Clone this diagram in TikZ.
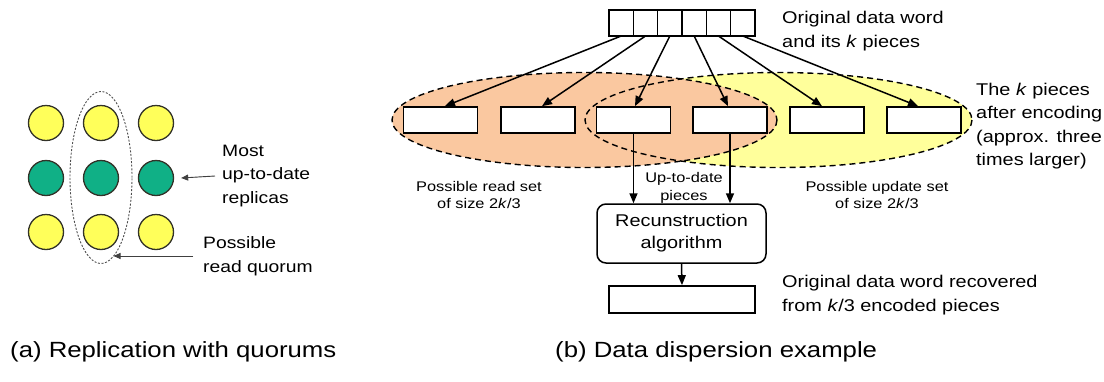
\documentclass[tikz,border=0pt]{standalone}
\usepackage{fontspec}
\setmainfont{Liberation Sans}[FakeStretch=1.17]
\usetikzlibrary{arrows.meta,shapes.geometric}
\definecolor{ball}{RGB}{255,255,90}
\definecolor{freshfill}{RGB}{16,176,134}
\definecolor{readfill}{RGB}{250,200,160}
\definecolor{updfill}{RGB}{255,255,155}
\definecolor{rim}{RGB}{50,50,40}

\begin{document}
\begin{tikzpicture}[x=1pt,y=-1pt,
  replica/.style={circle,draw=rim,line width=1.3pt,minimum size=35pt,inner sep=0pt},
  stale/.style={replica,fill=ball},
  current/.style={replica,fill=freshfill},
  cell/.style={draw,line width=1.5pt,minimum width=24.33pt,minimum height=26pt,inner sep=0pt,outer sep=0pt},
  piece/.style={draw,fill=white,line width=1.7pt,minimum width=74pt,minimum height=26pt,inner sep=0pt},
  setline/.style={line width=1.4pt,dash pattern=on 6pt off 4pt},
  arr/.style={-{Triangle[length=10pt,width=8pt]},line width=1.5pt},
  thinarr/.style={-{Triangle[length=7pt,width=6pt]},line width=0.9pt,draw=black!75,fill=black!75},
  lbltxt/.style={font=\fontsize{16.5}{23.5}\selectfont,align=left,anchor=west,inner sep=0pt},
  bigtxt/.style={font=\fontsize{17}{23.5}\selectfont,align=left,anchor=west,inner sep=0pt},
  smalltxt/.style={font=\fontsize{14}{17.5}\selectfont,align=center,inner sep=0pt},
  captxt/.style={font=\fontsize{22}{26}\selectfont,anchor=west,inner sep=0pt}]
\useasboundingbox (0,0) rectangle (1104,381);

% ---------- (a) replicas and a read quorum ----------
\node[stale]   (r11) at (46,123) {};
\node[stale]   (r12) at (101,123) {};
\node[stale]   (r13) at (156,123) {};
\node[current] (r21) at (46,178) {};
\node[current] (r22) at (101,178) {};
\node[current] (r23) at (156,178) {};
\node[stale]   (r31) at (46,232) {};
\node[stale]   (r32) at (101,232) {};
\node[stale]   (r33) at (156,232) {};

\node[ellipse,draw=black!70,line width=0.9pt,dash pattern=on 2pt off 1.6pt,
      minimum width=62pt,minimum height=172pt,inner sep=0pt] (q) at (101,177.5) {};
\coordinate (qtip) at (113.5,256);

\node[lbltxt] (most) at (222,176) {Most\\up-to-date\\replicas};
\node[lbltxt] (rq) at (203,256) {Possible\\read quorum};
\draw[thinarr] ([xshift=-7pt]most.west) -- ([xshift=7pt]r23.east);
\draw[thinarr] ([xshift=-10pt]rq.west) -- (qtip);

\node[captxt] (capa) at (10,352) {(a) Replication with quorums};

% ---------- (b) data dispersion ----------
% read set and update set
\fill[updfill]  (778.5,120) ellipse [x radius=193.5, y radius=47.5];
\fill[readfill] (584.5,120) ellipse [x radius=192.5, y radius=47.5];
\draw[setline]  (778.5,120) ellipse [x radius=193.5, y radius=47.5];
\draw[setline]  (584.5,120) ellipse [x radius=192.5, y radius=47.5];

% original word split into k pieces
\foreach \i in {1,...,6}
  \node[cell] (c\i) at ({609+24.33*(\i-0.5)},23) {};

% encoded pieces
\node[piece] (b1) at (440.5,120) {};
\node[piece] (b2) at (538,120) {};
\node[piece] (b3) at (633.5,120) {};
\node[piece] (b4) at (730,120) {};
\node[piece] (b5) at (827,120) {};
\node[piece] (b6) at (924,120) {};

\draw[arr] (c1.south) -- ([xshift=4.5pt]b1.north);
\draw[arr] (c2.south) -- ([xshift=4pt]b2.north);
\draw[arr] (c3.south) -- ([xshift=1.5pt]b3.north);
\draw[arr] (c4.south) -- ([xshift=-2pt]b4.north);
\draw[arr] (c5.south) -- ([xshift=-5pt]b5.north);
\draw[arr] (c6.south) -- ([xshift=-6pt]b6.north);

% reconstruction
\node[draw,line width=1.5pt,rounded corners=9pt,minimum width=169pt,minimum height=59pt,
      align=center,inner sep=0pt,font=\fontsize{17}{22}\selectfont] (rec) at (681.5,233.5)
      {Recunstruction\\algorithm};
\node[draw,line width=1.7pt,minimum width=146pt,minimum height=27pt,inner sep=0pt] (out) at (682,299.5) {};

\draw[arr] (b3.south) -- (b3.south |- rec.north);
\draw[arr] (b4.south) -- (b4.south |- rec.north);
\draw[arr] (rec.south) -- (out.north);

% labels
\node[bigtxt] (tword) at (782,31) {Original data word\\and its \textit{k} pieces};
\node[bigtxt] (tenc) at (976,126) {The \textit{k} pieces\\after encoding\\(approx. three\\times larger)};
\node[bigtxt] (trec) at (782,295) {Original data word recovered\\from \textit{k}/3 encoded pieces};
\node[smalltxt] (tread) at (479,195) {Possible read set\\of size 2\textit{k}/3};
\node[smalltxt] (tupd) at (877,195) {Possible update set\\of size 2\textit{k}/3};
\node[smalltxt] (tup) at (684,188) {Up-to-date\\pieces};

\node[captxt] (capb) at (555,352) {(b) Data dispersion example};
\end{tikzpicture}
\end{document}
